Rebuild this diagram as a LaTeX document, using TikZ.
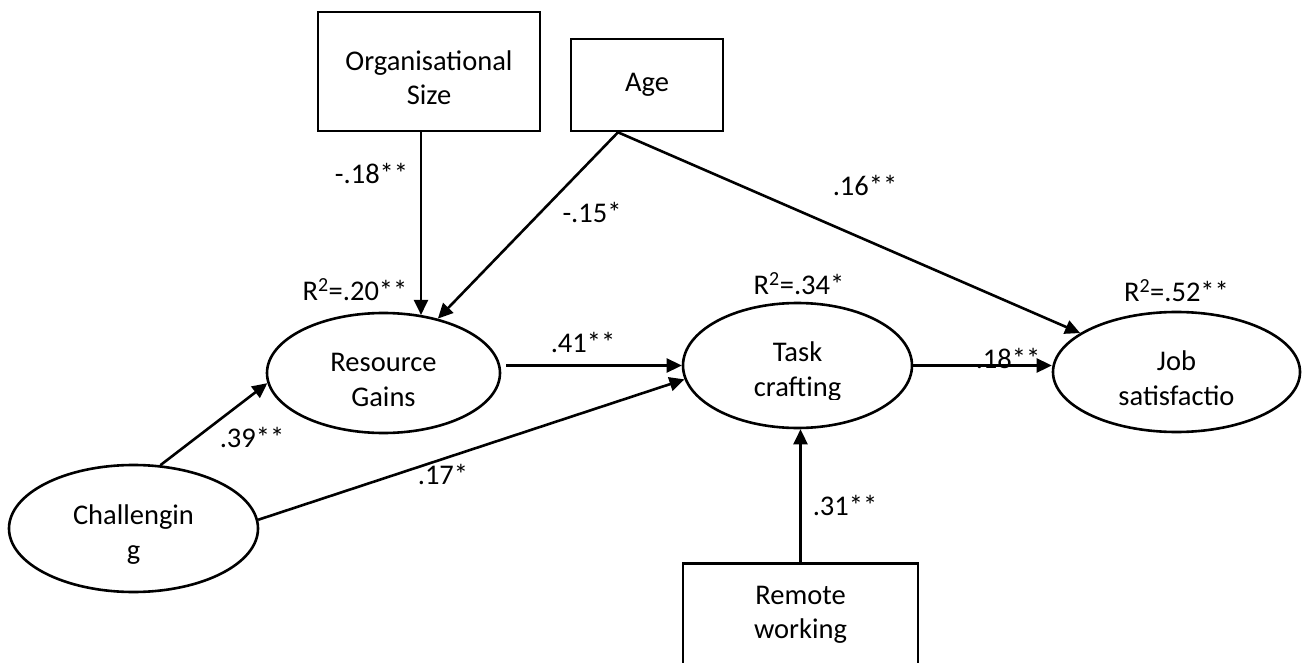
\documentclass[tikz,border=0pt]{standalone}
\usepackage{fontspec}
\setmainfont{Carlito}
\usetikzlibrary{shapes.geometric,arrows.meta,positioning}
\newcommand{\padtop}{\rule{0pt}{32pt}}

\begin{document}
\begin{tikzpicture}[x=1pt, y=-1pt, line width=2.6pt,
        font=\fontsize{28.5}{34.5}\selectfont,
        boxnode/.style={draw, rectangle, align=center, inner sep=0pt},
        ovalnode/.style={draw, ellipse, align=center, inner sep=0pt},
        lbl/.style={inner sep=0pt, align=center},
        arr/.style={-{Triangle[length=15pt,width=14pt]}}]
        \useasboundingbox (0,0) rectangle (1304,663);

        % variables
        \node[boxnode, minimum width=222pt, minimum height=119pt] (orgsize) at (429,71.5) {\padtop Organisational\\Size};
        \node[boxnode, minimum width=152pt, minimum height=92pt] (age) at (647,85) {Age};
        \node[ovalnode, minimum width=233pt, minimum height=120pt] (rg) at (383.5,373) {\padtop Resource\\Gains};
        \node[ovalnode, minimum width=229pt, minimum height=125pt] (tc) at (797.5,365.5) {};
        \node[ovalnode, minimum width=247pt, minimum height=120pt] (job) at (1176.5,372) {\padtop Job\\satisfactio};
        \node[ovalnode, minimum width=249pt, minimum height=127pt] (chal) at (133.5,528.5) {\padtop Challengin\\g};
        \node[boxnode, anchor=north, minimum width=235pt, inner ysep=22.6pt, text depth=60pt] (remote) at (800.5,562) {Remote\\working};

        \begin{scope}
        \clip (683,300) rectangle (912,399);
        \node[lbl] (tctext) at (tc) {\padtop Task\\crafting};
        \end{scope}

        % explained variance
        \node[lbl] (r2rg) at (355,290) {R\textsuperscript{2}=.20**};
        \node[lbl] (r2tc) at (799,283.5) {R\textsuperscript{2}=.34*};
        \node[lbl] (r2job) at (1176.5,291) {R\textsuperscript{2}=.52**};

        % paths
        \draw[arr] ([xshift=-8pt]orgsize.south) -- ([xshift=-8pt]orgsize.south |- rg.57);
        \draw[arr] ([xshift=-29pt]age.south) -- (rg.45);
        \draw[arr] ([xshift=-29pt]age.south) -- (job.158);
        \draw[arr, shorten <=5pt] (rg.east |- tc.west) -- (tc.west);
        \draw[arr] (chal.67) -- (rg.185);
        \draw[arr] (chal.4) -- (tc.187);
        \draw[arr] (tc.east) -- (tc.east -| job.west);
        \draw[arr] (remote.north) -- (remote.north |- tc.south);

        % coefficients
        \node[lbl] (m18) at (371.5,173) {-.18**};
        \node[lbl] (m15) at (592,212) {-.15*};
        \node[lbl] (p16) at (865,185) {.16**};
        \node[lbl] (p41) at (583,342) {.41**};
        \node[lbl] (p39) at (252,437) {.39**};
        \node[lbl] (p17) at (443,474) {.17*};
        \node[lbl] (p18) at (1008,358) {.18**};
        \node[lbl] (p31) at (845,505) {.31**};
\end{tikzpicture}
\end{document}
